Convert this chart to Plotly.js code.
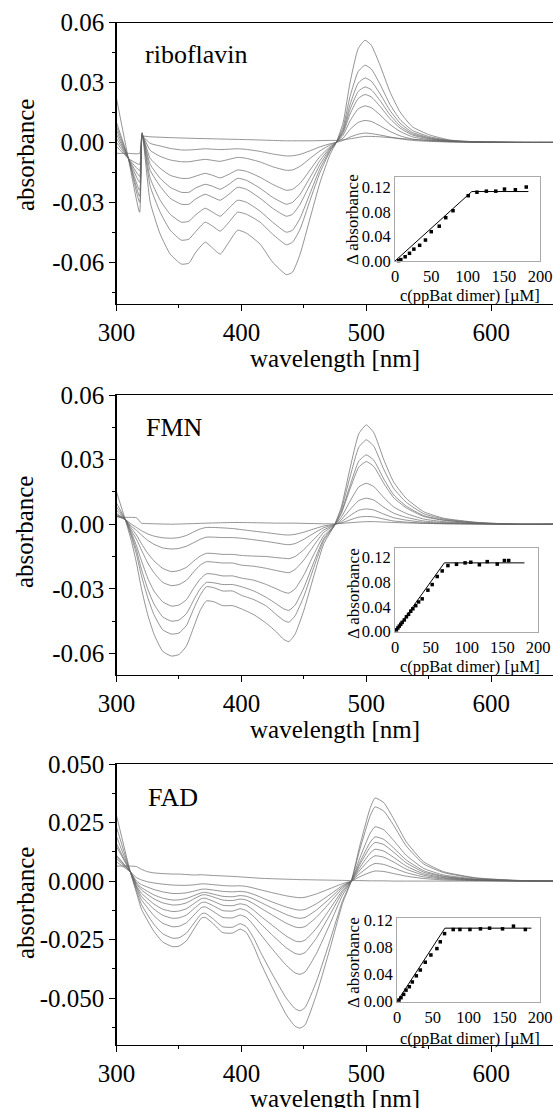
<!DOCTYPE html>
<html><head><meta charset="utf-8">
<script src="https://cdn.plot.ly/plotly-3.0.1.min.js"></script>
<style>html,body{margin:0;padding:0;background:#fff}</style>
</head><body><div id="chart" style="width:553px;height:1108px"></div>
<script>
// ---------- riboflavin (panel 1) ----------
const wl1 = [300, 309.5, 318.5, 320.5, 327, 335, 343, 352, 358, 363, 371, 377, 383, 390, 397, 404, 415, 425, 436, 441, 447, 455, 463, 471, 476, 481.5, 487, 493.5, 499, 504, 511, 519, 527, 537, 551, 567, 588, 620, 650];
const rf0 = [-0.0055, -0.0055, -0.0055, 0.003, 0.0028, 0.0026, 0.0024, 0.0022, 0.0021, 0.002, 0.0019, 0.0018, 0.0017, 0.0016, 0.0015, 0.0014, 0.0012, 0.001, 0.0008, 0.0008, 0.0008, 0.0008, 0.0009, 0.001, 0.001, 0.0013, 0.0018, 0.0025, 0.003, 0.003, 0.0028, 0.0024, 0.002, 0.0015, 0.001, 0.0006, 0.0003, 0.0001, 0];
const rf1 = [-0.002, -0.008, -0.011, 0.003, -0.0005, -0.0018, -0.003, -0.0038, -0.0038, -0.0036, -0.0032, -0.0034, -0.0036, -0.0034, -0.0032, -0.0035, -0.0045, -0.0058, -0.0068, -0.0067, -0.006, -0.0042, -0.0022, -0.0007, 0, 0.001, 0.0027, 0.0041, 0.0047, 0.0044, 0.0037, 0.0027, 0.0018, 0.001, 0.0005, 0.0002, 0.0001, 0, 0];
const rf2 = [0.000, -0.008, -0.014, 0.0035, -0.004, -0.007, -0.0088, -0.0097, -0.0097, -0.0092, -0.0085, -0.009, -0.0095, -0.0085, -0.0075, -0.008, -0.0098, -0.0122, -0.014, -0.0138, -0.012, -0.008, -0.0042, -0.0013, 0, 0.0022, 0.0065, 0.010, 0.011, 0.0105, 0.0083, 0.0055, 0.0033, 0.0017, 0.0008, 0.0003, 0.0001, 0, 0];
const rf3 = [0.002, -0.008, -0.017, 0.004, -0.008, -0.013, -0.0165, -0.018, -0.018, -0.017, -0.0155, -0.0165, -0.0178, -0.016, -0.0138, -0.0145, -0.0175, -0.021, -0.024, -0.0235, -0.0205, -0.0138, -0.007, -0.0022, 0, 0.0037, 0.0108, 0.0168, 0.0183, 0.0174, 0.0138, 0.009, 0.0055, 0.0028, 0.0013, 0.0005, 0.0001, 0, 0];
const rf4 = [0.004, -0.008, -0.020, 0.004, -0.011, -0.018, -0.0225, -0.025, -0.025, -0.023, -0.021, -0.022, -0.0235, -0.021, -0.018, -0.019, -0.023, -0.0275, -0.031, -0.030, -0.026, -0.0175, -0.009, -0.0028, 0, 0.0048, 0.0142, 0.022, 0.024, 0.0228, 0.0181, 0.0119, 0.0072, 0.0037, 0.0017, 0.0006, 0.0001, 0, 0];
const rf5 = [0.006, -0.008, -0.024, 0.0045, -0.014, -0.022, -0.028, -0.031, -0.031, -0.0285, -0.026, -0.0275, -0.029, -0.026, -0.0225, -0.0235, -0.028, -0.033, -0.037, -0.036, -0.031, -0.021, -0.011, -0.0033, 0, 0.0056, 0.0165, 0.0255, 0.0278, 0.0264, 0.021, 0.0138, 0.0083, 0.0043, 0.002, 0.0007, 0.0002, 0, 0];
const rf6 = [0.008, -0.008, -0.027, 0.004, -0.018, -0.029, -0.036, -0.040, -0.0395, -0.0365, -0.033, -0.035, -0.037, -0.033, -0.029, -0.030, -0.0345, -0.040, -0.045, -0.044, -0.038, -0.0255, -0.013, -0.004, 0, 0.0065, 0.019, 0.0297, 0.0323, 0.0307, 0.0244, 0.016, 0.0097, 0.005, 0.0023, 0.0008, 0.0002, 0, 0];
const rf7 = [0.010, -0.008, -0.030, 0.0045, -0.022, -0.035, -0.044, -0.049, -0.0485, -0.045, -0.040, -0.042, -0.0445, -0.040, -0.035, -0.036, -0.040, -0.046, -0.0513, -0.050, -0.0435, -0.029, -0.015, -0.0045, 0, 0.0078, 0.023, 0.0355, 0.0387, 0.0368, 0.0292, 0.019, 0.0115, 0.006, 0.0028, 0.001, 0.0003, 0, 0];
const rf8 = [0.022, -0.008, -0.035, 0.005, -0.030, -0.046, -0.056, -0.061, -0.0605, -0.0555, -0.050, -0.053, -0.056, -0.050, -0.044, -0.0455, -0.051, -0.060, -0.0663, -0.065, -0.056, -0.038, -0.020, -0.006, 0, 0.010, 0.030, 0.047, 0.0512, 0.0487, 0.0387, 0.0253, 0.0153, 0.0078, 0.0037, 0.0012, 0.0003, 0, 0];

// ---------- FMN (panel 2) ----------
const wl2 = [300, 307, 312, 316, 320, 325, 330, 337, 344, 350, 356, 362, 367, 372, 378, 385, 393, 400, 410, 420, 428, 434, 438, 443, 450, 458, 466, 474, 480, 487, 494, 500, 506, 514, 522, 532, 546, 562, 588, 620, 650];
const fm0 = [0.0035, 0.0032, 0.0032, 0.003, 0.0005, 0.0003, 0.0002, 0.0001, 0.0, 0.0001, 0.0002, 0.0003, 0.0004, 0.0005, 0.0006, 0.0007, 0.0008, 0.0008, 0.0007, 0.0006, 0.0005, 0.0005, 0.0005, 0.0005, 0.0004, 0.0003, 0.0002, 0.0002, 0.0004, 0.0007, 0.001, 0.0012, 0.0012, 0.001, 0.0008, 0.0006, 0.0004, 0.0002, 0.0001, 0, 0];
const fm1 = [0.0037, 0.0022, 0, -0.0015, -0.003, -0.0045, -0.0055, -0.0063, -0.0065, -0.0062, -0.0052, -0.0035, -0.0022, -0.0015, -0.0015, -0.0017, -0.002, -0.0025, -0.0032, -0.0039, -0.0045, -0.0049, -0.005, -0.0047, -0.0037, -0.0022, -0.0008, -0.0001, 0.0006, 0.002, 0.0033, 0.0036, 0.0034, 0.0024, 0.0015, 0.001, 0.0005, 0.0003, 0.0001, 0, 0];
const fm2 = [0.004, 0.0022, -0.001, -0.0028, -0.005, -0.0075, -0.0093, -0.011, -0.0115, -0.0112, -0.0102, -0.0085, -0.007, -0.006, -0.006, -0.0062, -0.0062, -0.0065, -0.0072, -0.008, -0.0087, -0.0093, -0.0095, -0.009, -0.007, -0.0042, -0.0016, -0.0003, 0.0012, 0.004, 0.0065, 0.0071, 0.0066, 0.0047, 0.003, 0.0019, 0.0009, 0.0005, 0.0002, 0, 0];
const fm3 = [0.0045, 0.0022, -0.002, -0.005, -0.009, -0.0135, -0.017, -0.0205, -0.022, -0.0215, -0.020, -0.017, -0.0148, -0.0135, -0.0136, -0.014, -0.014, -0.0145, -0.0148, -0.015, -0.0155, -0.0158, -0.016, -0.015, -0.0118, -0.007, -0.0026, -0.0005, 0.0021, 0.0068, 0.011, 0.0121, 0.0112, 0.0079, 0.0051, 0.0032, 0.0015, 0.0008, 0.0003, 0, 0];
const fm4 = [0.005, 0.0022, -0.003, -0.007, -0.012, -0.018, -0.0225, -0.027, -0.0285, -0.028, -0.026, -0.022, -0.019, -0.0174, -0.0176, -0.018, -0.018, -0.019, -0.0195, -0.0205, -0.0215, -0.0222, -0.0225, -0.021, -0.0166, -0.0099, -0.0037, -0.0007, 0.0033, 0.0107, 0.0173, 0.019, 0.0175, 0.0124, 0.008, 0.005, 0.0024, 0.0012, 0.0004, 0, 0];
const fm5 = [0.0065, 0.0022, -0.004, -0.010, -0.017, -0.025, -0.031, -0.036, -0.038, -0.0375, -0.035, -0.0295, -0.0255, -0.023, -0.0232, -0.024, -0.024, -0.025, -0.026, -0.028, -0.030, -0.0315, -0.032, -0.030, -0.0236, -0.014, -0.0053, -0.001, 0.005, 0.0164, 0.0265, 0.0291, 0.0268, 0.019, 0.0123, 0.0076, 0.0036, 0.0018, 0.0006, 0, 0];
const fm6 = [0.008, 0.0022, -0.005, -0.012, -0.021, -0.030, -0.037, -0.043, -0.045, -0.0445, -0.0415, -0.035, -0.030, -0.027, -0.0272, -0.028, -0.028, -0.029, -0.031, -0.034, -0.037, -0.0393, -0.040, -0.0375, -0.0295, -0.0176, -0.0066, -0.001, 0.0056, 0.018, 0.0293, 0.0322, 0.0297, 0.021, 0.0136, 0.0084, 0.004, 0.002, 0.0006, 0, 0];
const fm7 = [0.0098, 0.0022, -0.006, -0.014, -0.024, -0.034, -0.042, -0.049, -0.051, -0.0505, -0.047, -0.039, -0.033, -0.029, -0.0295, -0.031, -0.031, -0.033, -0.035, -0.038, -0.042, -0.0447, -0.0455, -0.0425, -0.0335, -0.020, -0.0075, -0.001, 0.0068, 0.022, 0.0357, 0.0392, 0.0362, 0.0255, 0.0166, 0.0102, 0.0049, 0.0024, 0.0008, 0, 0];
const fm8 = [0.015, 0.0022, -0.008, -0.018, -0.030, -0.042, -0.051, -0.059, -0.0612, -0.0605, -0.0565, -0.0475, -0.040, -0.0356, -0.036, -0.0378, -0.0378, -0.0393, -0.042, -0.046, -0.050, -0.0535, -0.0545, -0.051, -0.040, -0.024, -0.009, -0.001, 0.008, 0.026, 0.042, 0.0461, 0.0425, 0.030, 0.0195, 0.012, 0.0058, 0.0028, 0.0009, 0, 0];

// ---------- FAD (panel 3) ----------
const wl3 = [300, 311, 316, 320, 325, 330, 337, 345, 350, 356, 362, 368, 371, 377, 385, 393, 399, 404, 410, 415, 425, 436, 443, 447, 451, 460, 471, 481, 488, 495, 503, 507, 514, 522, 532, 546, 562, 588, 620, 650];
const fa0 = [0.0064, 0.0064, 0.0062, 0.005, 0.004, 0.0035, 0.0032, 0.003, 0.003, 0.0028, 0.0026, 0.0027, 0.0026, 0.0024, 0.0022, 0.002, 0.0018, 0.0016, 0.0014, 0.0012, 0.001, 0.0008, 0.0007, 0.0006, 0.0006, 0.0005, 0.0004, 0.0003, 0.0002, 0.0002, 0.0001, 0.0001, 0.0001, 0, 0, 0, 0, 0, 0, 0];
const fa1 = [0.0082, 0.004, 0.0015, 0.0005, -0.0003, -0.0008, -0.0013, -0.0017, -0.0018, -0.0018, -0.0016, -0.0012, -0.0012, -0.0015, -0.0019, -0.0021, -0.002, -0.0023, -0.003, -0.0037, -0.005, -0.0063, -0.0069, -0.0071, -0.0069, -0.0055, -0.0032, -0.0011, 0, 0.0019, 0.0037, 0.0043, 0.0041, 0.0032, 0.0021, 0.0011, 0.0005, 0.0002, 0, 0];
const fa2 = [0.0095, 0.004, 0, -0.0015, -0.0026, -0.0036, -0.0046, -0.0053, -0.0053, -0.005, -0.0043, -0.0035, -0.0034, -0.0038, -0.0044, -0.0046, -0.0044, -0.0047, -0.0057, -0.0068, -0.009, -0.0111, -0.0121, -0.0124, -0.0121, -0.0097, -0.0057, -0.0019, 0, 0.0033, 0.0065, 0.0075, 0.0071, 0.0056, 0.0036, 0.0018, 0.0009, 0.0003, 0.0001, 0];
const fa3 = [0.0104, 0.004, -0.0008, -0.0028, -0.0044, -0.0059, -0.0073, -0.0081, -0.008, -0.0074, -0.0062, -0.005, -0.0048, -0.0055, -0.0065, -0.0067, -0.0062, -0.0065, -0.0077, -0.009, -0.0116, -0.0143, -0.0156, -0.0159, -0.0155, -0.0124, -0.0073, -0.0024, 0, 0.0047, 0.0094, 0.0108, 0.0102, 0.0081, 0.0051, 0.0025, 0.0012, 0.0004, 0.0001, 0];
const fa4 = [0.011, 0.004, -0.0012, -0.0038, -0.0058, -0.0076, -0.0093, -0.0102, -0.0101, -0.0093, -0.0076, -0.006, -0.0058, -0.0067, -0.0081, -0.0083, -0.0077, -0.0081, -0.0097, -0.0114, -0.0146, -0.018, -0.0196, -0.0199, -0.0194, -0.0155, -0.0091, -0.003, 0, 0.0059, 0.0119, 0.0136, 0.0128, 0.0101, 0.0064, 0.0031, 0.0015, 0.0005, 0.0001, 0];
const fa5 = [0.0147, 0.004, -0.002, -0.0052, -0.0076, -0.0098, -0.012, -0.013, -0.0128, -0.0118, -0.0096, -0.0075, -0.0073, -0.0085, -0.0103, -0.0105, -0.0097, -0.0103, -0.0125, -0.0148, -0.019, -0.0235, -0.0256, -0.0259, -0.0252, -0.0202, -0.0118, -0.0039, 0, 0.0072, 0.0144, 0.0165, 0.0156, 0.0123, 0.0078, 0.0038, 0.0019, 0.0006, 0.0002, 0];
const fa6 = [0.016, 0.004, -0.0025, -0.0065, -0.0094, -0.012, -0.0146, -0.0159, -0.0157, -0.0145, -0.0118, -0.0092, -0.009, -0.0104, -0.0126, -0.0128, -0.0118, -0.0126, -0.0152, -0.018, -0.0232, -0.0285, -0.0309, -0.0313, -0.0305, -0.0244, -0.0143, -0.0047, 0, 0.0082, 0.0165, 0.0189, 0.0178, 0.0141, 0.009, 0.0044, 0.0021, 0.0007, 0.0002, 0];
const fa7 = [0.019, 0.004, -0.003, -0.008, -0.0115, -0.0148, -0.018, -0.0195, -0.0193, -0.0178, -0.0145, -0.0113, -0.011, -0.0128, -0.0155, -0.0157, -0.0145, -0.0155, -0.019, -0.0225, -0.0292, -0.036, -0.0392, -0.0398, -0.0388, -0.031, -0.0182, -0.006, 0, 0.0101, 0.0203, 0.0232, 0.0219, 0.0173, 0.011, 0.0054, 0.0026, 0.0009, 0.0002, 0];
const fa8 = [0.023, 0.004, -0.004, -0.010, -0.0145, -0.0185, -0.0225, -0.0244, -0.0242, -0.0222, -0.018, -0.014, -0.0137, -0.016, -0.0195, -0.0197, -0.0182, -0.0195, -0.0245, -0.030, -0.040, -0.050, -0.0545, -0.0554, -0.054, -0.043, -0.0253, -0.0084, 0, 0.0138, 0.0277, 0.0317, 0.0299, 0.0237, 0.015, 0.0073, 0.0036, 0.0012, 0.0003, 0];
const fa9 = [0.028, 0.004, -0.005, -0.012, -0.017, -0.0215, -0.026, -0.028, -0.0278, -0.0255, -0.0205, -0.0158, -0.0155, -0.018, -0.022, -0.0222, -0.0205, -0.022, -0.028, -0.0344, -0.0457, -0.0571, -0.062, -0.0628, -0.0614, -0.0486, -0.0287, -0.0095, 0, 0.0155, 0.031, 0.0355, 0.0335, 0.0265, 0.0168, 0.0082, 0.004, 0.0014, 0.0003, 0];

// ---------- insets: titration data ----------
const ribConc = [5, 8, 14, 20, 26, 34, 42, 50, 61, 70, 80, 101, 113, 126, 139, 151, 166, 181];
const ribDA   = [0.0006, 0.0023, 0.0069, 0.0126, 0.0194, 0.0257, 0.0343, 0.048, 0.057, 0.0709, 0.0823, 0.1069, 0.1126, 0.1143, 0.1143, 0.1177, 0.1166, 0.1211];
const ribFitX = [0, 106, 184];
const ribFitY = [0, 0.1137, 0.1137];
const fmnConc = [2, 4, 6, 8, 10, 13, 16, 19, 22, 25, 29, 33, 38, 46, 52, 59, 66, 74, 86, 98, 106, 118, 129, 143, 153, 159];
const fmnDA   = [0.003, 0.006, 0.009, 0.012, 0.015, 0.019, 0.024, 0.028, 0.033, 0.037, 0.042, 0.048, 0.053, 0.067, 0.076, 0.089, 0.098, 0.1066, 0.1087, 0.111, 0.112, 0.108, 0.113, 0.109, 0.1148, 0.1148];
const fmnFitX = [0, 69, 181];
const fmnFitY = [0, 0.111, 0.111];
const fadConc = [2.8, 5.6, 9.3, 12.6, 17.2, 21.4, 27, 32.6, 39.5, 47.4, 55.8, 60.5, 66.5, 78.6, 88, 102, 116.7, 129.5, 147.6, 162.9, 179.5];
const fadDA   = [0.0024, 0.0059, 0.0108, 0.017, 0.022, 0.029, 0.038, 0.0465, 0.058, 0.0686, 0.078, 0.088, 0.100, 0.106, 0.106, 0.106, 0.107, 0.108, 0.107, 0.111, 0.106];
const fadFitX = [0, 67, 188];
const fadFitY = [0, 0.108, 0.108];

// ---------- tick labels ----------
const wlTicks = [300, 400, 500, 600];
const wlTickText = ['300', '400', '500', '600'];
const absTicks12 = [0.06, 0.03, 0, -0.03, -0.06];
const absTickText12 = ['0.06', '0.03', '0.00', '-0.03', '-0.06'];
const absTicks3 = [0.05, 0.025, 0, -0.025, -0.05];
const absTickText3 = ['0.050', '0.025', '0.000', '-0.025', '-0.050'];
const insetXTicks = [0, 50, 100, 150, 200];
const insetYTicks = [0, 0.04, 0.08, 0.12];
const insetYText = ['0.00', '0.04', '0.08', '0.12'];

const W = 553, H = 1108;
const px = v => v / W, py = v => 1 - v / H;
const FONT = '"Liberation Serif", "Times New Roman", Times, serif';

const traces = [];
function addCurves(wl, list, xa, ya) {
  list.forEach(y => traces.push({
    type: 'scatter', mode: 'lines', x: wl, y: y, xaxis: xa, yaxis: ya,
    line: {color: '#666666', width: 0.7, shape: 'spline', smoothing: 0.5},
    hoverinfo: 'skip', showlegend: false
  }));
}
addCurves(wl1, [rf0, rf1, rf2, rf3, rf4, rf5, rf6, rf7, rf8], 'x', 'y');
addCurves(wl2, [fm0, fm1, fm2, fm3, fm4, fm5, fm6, fm7, fm8], 'x2', 'y2');
addCurves(wl3, [fa0, fa1, fa2, fa3, fa4, fa5, fa6, fa7, fa8, fa9], 'x3', 'y3');

function addInset(cx, cy, fx, fy, xa, ya) {
  traces.push({type: 'scatter', mode: 'lines', x: fx, y: fy, xaxis: xa, yaxis: ya,
    line: {color: '#000', width: 1}, cliponaxis: false, hoverinfo: 'skip', showlegend: false});
  traces.push({type: 'scatter', mode: 'markers', x: cx, y: cy, xaxis: xa, yaxis: ya,
    marker: {symbol: 'square', size: 3.5, color: '#000'}, cliponaxis: false, hoverinfo: 'skip', showlegend: false});
}
addInset(ribConc, ribDA, ribFitX, ribFitY, 'x4', 'y4');
addInset(fmnConc, fmnDA, fmnFitX, fmnFitY, 'x5', 'y5');
addInset(fadConc, fadDA, fadFitX, fadFitY, 'x6', 'y6');

function mainX(anchor) {
  return {domain: [px(116.5), 1], anchor: anchor, range: [300, 649.5],
    tickmode: 'array', tickvals: wlTicks, ticktext: wlTickText,
    ticks: 'outside', ticklen: 6, tickwidth: 1, tickcolor: '#000',
    showline: true, linecolor: '#000', linewidth: 1.2, mirror: true,
    showgrid: false, zeroline: false, tickfont: {family: FONT, size: 25, color: '#000'},
    minor: {dtick: 50, tick0: 300, ticks: 'outside', ticklen: 3, tickcolor: '#000', showgrid: false}};
}
function mainY(anchor, dom, range, tv, tt, minor) {
  return {domain: dom, anchor: anchor, range: range,
    tickmode: 'array', tickvals: tv, ticktext: tt,
    ticks: 'outside', ticklen: 6, tickwidth: 1, tickcolor: '#000',
    showline: true, linecolor: '#000', linewidth: 1.2, mirror: false,
    showgrid: false, zeroline: false, tickfont: {family: FONT, size: 25, color: '#000'},
    minor: {dtick: minor, tick0: 0, ticks: 'outside', ticklen: 3, tickcolor: '#000', showgrid: false}};
}
function insetX(anchor, x0, x1) {
  return {domain: [px(x0), px(x1)], anchor: anchor, range: [0, 200],
    tickmode: 'array', tickvals: insetXTicks, ticks: '',
    showline: true, linecolor: '#aaa', linewidth: 1, mirror: true,
    showgrid: false, zeroline: false, tickfont: {family: FONT, size: 16.5, color: '#000'}};
}
function insetY(anchor, y0, y1, top) {
  return {domain: [py(y1), py(y0)], anchor: anchor, range: [0, top],
    tickmode: 'array', tickvals: insetYTicks, ticktext: insetYText, ticks: '',
    showline: true, linecolor: '#aaa', linewidth: 1, mirror: true,
    showgrid: false, zeroline: false, tickfont: {family: FONT, size: 16.5, color: '#000'}};
}

const ann = [];
function text(t, x, y, size, opts) {
  ann.push(Object.assign({text: t, x: px(x), y: py(y), xref: 'paper', yref: 'paper',
    showarrow: false, font: {family: FONT, size: size, color: '#000'},
    xanchor: 'center', yanchor: 'middle'}, opts || {}));
}
text('riboflavin', 143, 54, 26, {xanchor: 'left'});
text('FMN', 144, 428, 26, {xanchor: 'left'});
text('FAD', 146, 797, 26, {xanchor: 'left'});
[155, 532, 903].forEach(y => text('absorbance', 25, y, 25, {textangle: -90}));
[359, 729, 1098].forEach(y => text('wavelength [nm]', 335, y, 25));
[[295, 220], [666, 594], [1038, 963]].forEach(([xt, yt]) => {
  text('c(ppBat dimer) [µM]', 470, xt, 16.5);
  text('Δ absorbance', 353, yt, 17, {textangle: -90});
});

const layout = {
  width: W, height: H, margin: {l: 0, r: 0, t: 0, b: 0},
  paper_bgcolor: '#fff', plot_bgcolor: 'rgba(0,0,0,0)', showlegend: false,
  font: {family: FONT, color: '#000'},
  xaxis: mainX('y'),
  yaxis: mainY('x', [py(304), py(22.7)], [-0.081, 0.06], absTicks12, absTickText12, 0.015),
  xaxis2: mainX('y2'),
  yaxis2: mainY('x2', [py(675), py(395)], [-0.07, 0.06], absTicks12, absTickText12, 0.015),
  xaxis3: mainX('y3'),
  yaxis3: mainY('x3', [py(1045), py(764)], [-0.07, 0.05], absTicks3, absTickText3, 0.0125),
  xaxis4: insetX('y4', 395, 540),
  yaxis4: insetY('x4', 177, 261, 0.1375),
  xaxis5: insetX('y5', 395, 538),
  yaxis5: insetY('x5', 548.3, 631.7, 0.1345),
  xaxis6: insetX('y6', 397, 540),
  yaxis6: insetY('x6', 918.3, 1001.7, 0.1225),
  annotations: ann
};

Plotly.newPlot('chart', traces, layout, {staticPlot: true, displayModeBar: false});
</script></body></html>
